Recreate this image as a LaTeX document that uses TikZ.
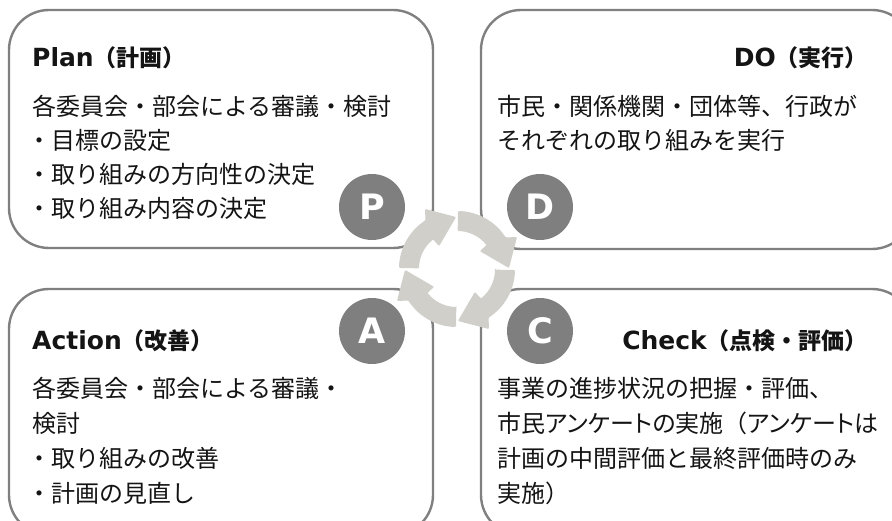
\documentclass[tikz,border=0pt]{standalone}
\usepackage{fontspec}
\setmainfont{Noto Sans CJK JP}
\newfontfamily\latfont{DejaVu Sans}
\definecolor{boxline}{RGB}{128,128,128}
\definecolor{circfill}{RGB}{127,127,127}
\definecolor{ringfill}{RGB}{208,207,202}
\definecolor{txt}{RGB}{20,20,20}
\tikzset{
  pdcabox/.style={draw=boxline, line width=2.4pt, rounded corners=40pt},
  letterdisc/.style={circle, fill=circfill, minimum size=66pt, inner sep=0pt, text=white,
    font=\latfont\bfseries\fontsize{35}{35}\selectfont},
  ringarrow/.style={fill=ringfill, rounded corners=1pt},
  titletext/.style={inner sep=0pt, text=txt, font=\bfseries\fontsize{23}{26}\selectfont},
  bodytext/.style={inner sep=0pt, anchor=base west, text=txt, font=\fontsize{24}{26}\selectfont},
}
\newcommand{\lat}[1]{{\latfont\fontsize{25}{26}\selectfont #1}}
\newcommand{\prop}[1]{{\addfontfeature{RawFeature=+palt}#1}}
\begin{document}
\begin{tikzpicture}[x=1pt,y=-1pt]
\useasboundingbox (0,0) rectangle (892,521);
\clip (0,0) rectangle (892,521);
% boxes
\draw[pdcabox] (9,10) rectangle (433,248);
\draw[pdcabox] (481,10) rectangle (912,249);
\draw[pdcabox] (9,289) rectangle (433,535);
\draw[pdcabox] (481,289) rectangle (912,535);
% cycle arrows
\begin{scope}[shift={(457,269)}, y=1pt]
\foreach \t in {89,-1,-91,-181} {
  \fill[ringarrow] (\t:38) -- (\t:58) arc[start angle=\t, end angle=\t-56, radius=58]
    -- ({\t-61}:68) -- ({\t-88}:52) -- ({\t-51}:29) -- ({\t-50}:38)
    arc[start angle=\t-50, end angle=\t, radius=38] -- cycle;
}
\end{scope}
% letter discs
\node[letterdisc] (pdisc) at (372,207) {P};
\node[letterdisc] (ddisc) at (540,207) {D};
\node[letterdisc] (adisc) at (372,331) {A};
\node[letterdisc] (cdisc) at (540,331) {C};
% Plan
\node[titletext, anchor=base west] (plantitle) at (32,67) {\lat{Plan}（計画）};
\node[bodytext] (plan1) at (32,116) {各委員会・部会による審議・検討};
\node[bodytext] (plan2) at (27,150) {・目標の設定};
\node[bodytext] (plan3) at (27,184) {・取り組みの方向性の決定};
\node[bodytext] (plan4) at (27,218) {・取り組み内容の決定};
% Do
\node[titletext, anchor=base east] (dotitle) at (868,67) {\lat{DO}（実行）};
\node[bodytext] (do1) at (497,116) {市民・関係機関・団体等、行政が};
\node[bodytext] (do2) at (497,150) {それぞれの取り組みを実行};
% Action
\node[titletext, anchor=base west] (acttitle) at (32,350) {\lat{Action}（改善）};
\node[bodytext] (act1) at (32,397) {各委員会・部会による審議・};
\node[bodytext] (act2) at (32,432) {検討};
\node[bodytext] (act3) at (27,467) {・取り組みの改善};
\node[bodytext] (act4) at (27,502) {・計画の見直し};
% Check
\node[titletext, anchor=base east] (chktitle) at (868,350) {\lat{Check}（点検・評価）};
\node[bodytext] (chk1) at (497,397) {事業の進捗状況の把握・評価、};
\node[bodytext] (chk2) at (497,432) {\prop{市民アンケートの実施}（\prop{アンケートは}};
\node[bodytext] (chk3) at (497,467) {計画の中間評価と最終評価時のみ};
\node[bodytext] (chk4) at (497,502) {実施）};
\end{tikzpicture}
\end{document}
